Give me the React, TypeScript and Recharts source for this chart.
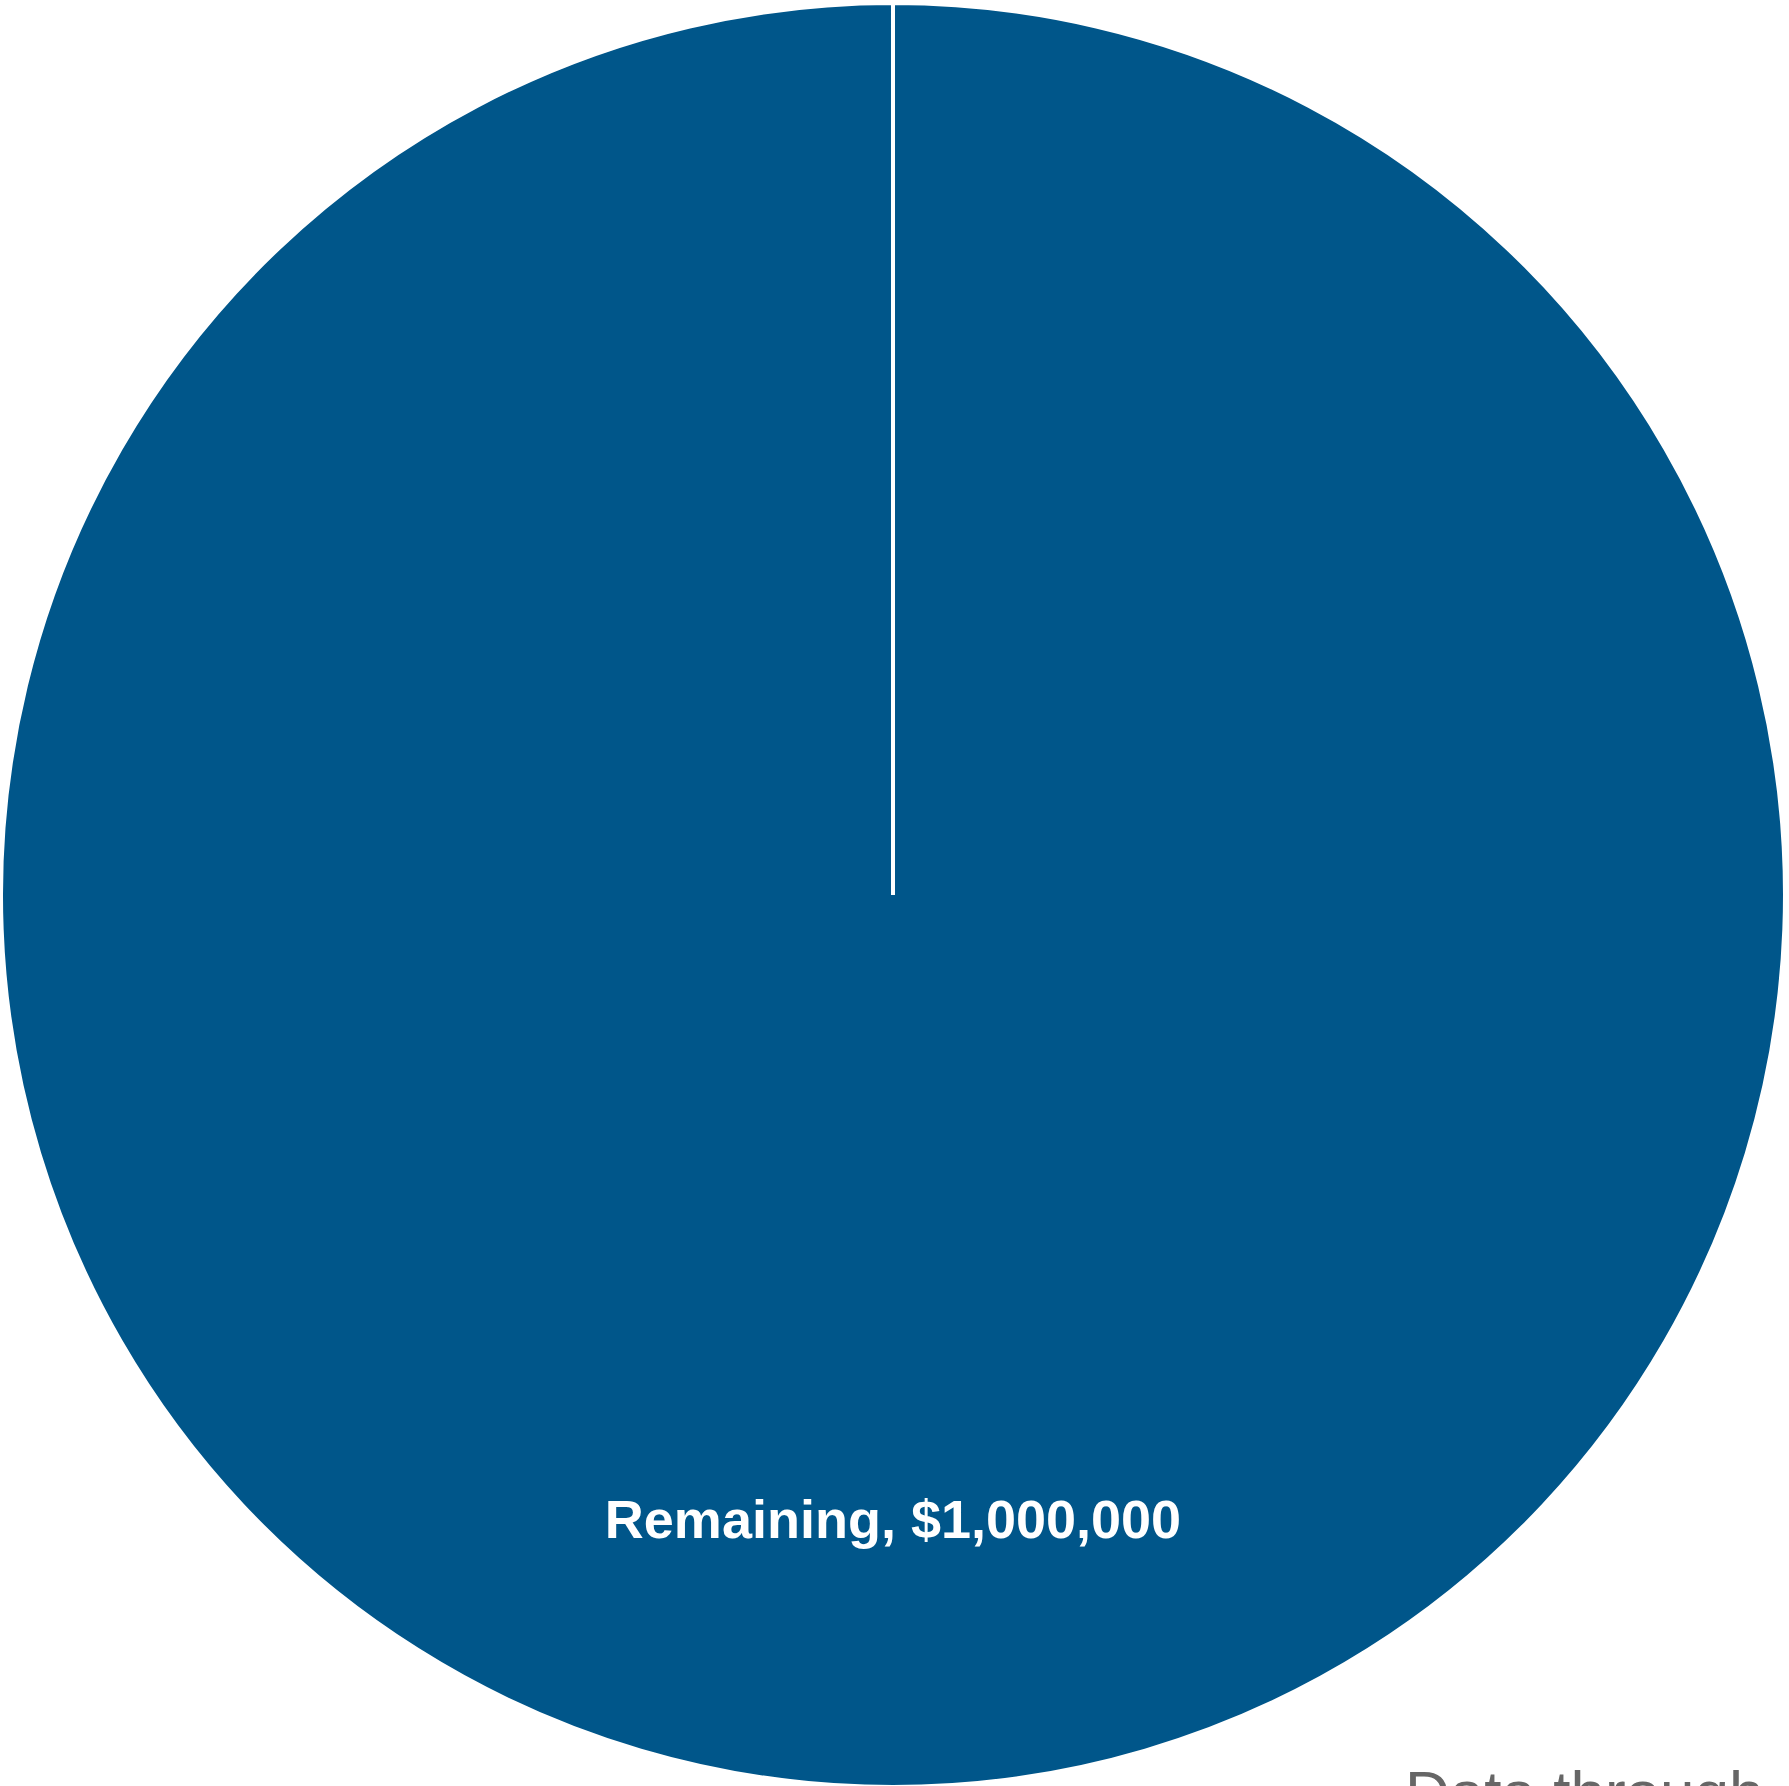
import React from 'react';
import { PieChart, Pie, Cell } from 'recharts';

const categories = ['Remaining'];
const values = [1000000];
const sliceColors = ['#00568A'];
const captionText = 'Data through';

const data = categories.map((name, i) => ({ name, value: values[i] }));

const RADIAN = Math.PI / 180;

const renderLabel = (props: any) => {
  const { cx, cy, midAngle, outerRadius, name, value } = props;
  const r = outerRadius * 0.7;
  const x = cx + r * Math.cos(-midAngle * RADIAN);
  const y = cy + r * Math.sin(-midAngle * RADIAN);
  return (
    <text
      x={x}
      y={y}
      fill="#ffffff"
      textAnchor="middle"
      dominantBaseline="central"
      fontFamily="'Liberation Sans', Arial, sans-serif"
      fontWeight="bold"
      fontSize={54}
    >
      {`${name}, $${Number(value).toLocaleString('en-US')}`}
    </text>
  );
};

export default function App() {
  return (
    <div
      style={{
        position: 'absolute',
        left: 0,
        top: 0,
        width: 1789,
        height: 1786,
        overflow: 'hidden',
        background: '#ffffff',
      }}
    >
      <PieChart width={1789} height={1786} margin={{ top: 0, right: 0, bottom: 0, left: 0 }}>
        <Pie
          data={data}
          dataKey="value"
          nameKey="name"
          cx={893}
          cy={895}
          innerRadius={0}
          outerRadius={892}
          startAngle={90}
          endAngle={-270}
          stroke="#ffffff"
          strokeWidth={4}
          label={renderLabel}
          labelLine={false}
          isAnimationActive={false}
        >
          {data.map((d, i) => (
            <Cell key={d.name} fill={sliceColors[i]} />
          ))}
        </Pie>
      </PieChart>
      <svg
        width={1789}
        height={1786}
        style={{ position: 'absolute', left: 0, top: 0, pointerEvents: 'none' }}
      >
        <text
          x={1405}
          y={1814}
          fill="#666666"
          fontFamily="'Liberation Sans', Arial, sans-serif"
          fontSize={62}
        >
          {captionText}
        </text>
      </svg>
    </div>
  );
}
